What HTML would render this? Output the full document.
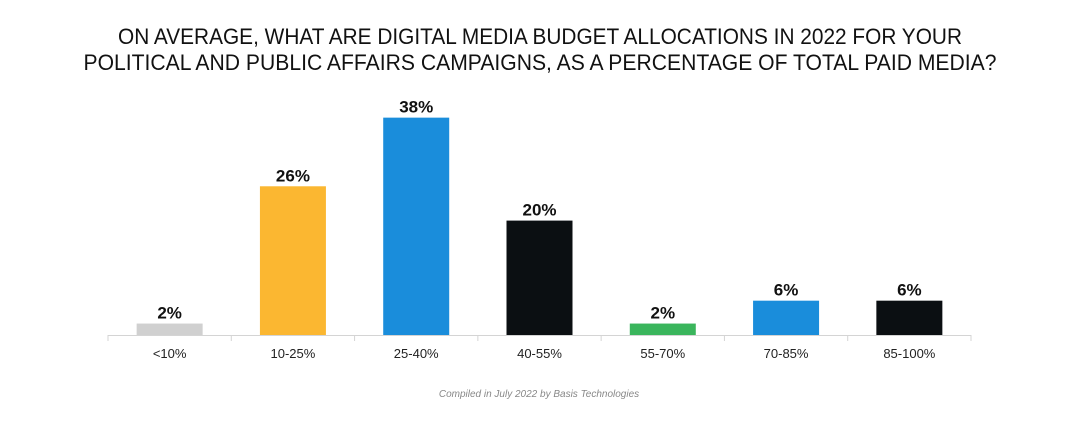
<!DOCTYPE html>
<html><head><meta charset="utf-8"><style>
html,body{margin:0;padding:0;background:#fff;}
svg{display:block;}
text{font-family:"Liberation Sans",sans-serif;}
</style></head><body>
<svg id="chart" width="1079" height="427" viewBox="0 0 1079 427" xmlns="http://www.w3.org/2000/svg">
<rect width="1079" height="427" fill="#fff"/>
<text x="540" y="44" text-anchor="middle" font-size="22" fill="#111" textLength="844" lengthAdjust="spacingAndGlyphs">ON AVERAGE, WHAT ARE DIGITAL MEDIA BUDGET ALLOCATIONS IN 2022 FOR YOUR</text>
<text x="540" y="70" text-anchor="middle" font-size="22" fill="#111" textLength="913" lengthAdjust="spacingAndGlyphs">POLITICAL AND PUBLIC AFFAIRS CAMPAIGNS, AS A PERCENTAGE OF TOTAL PAID MEDIA?</text>
<g id="plot"></g>
<text x="539" y="397" text-anchor="middle" font-size="10" font-style="italic" fill="#888">Compiled in July 2022 by Basis Technologies</text>
</svg>
<script>
const categories = ["<10%","10-25%","25-40%","40-55%","55-70%","70-85%","85-100%"];
const values = [2,26,38,20,2,6,6];
const valueLabels = ["2%","26%","38%","20%","2%","6%","6%"];
const colors = ["#d0d0d0","#fbb731","#1a8ddb","#0b0f12","#3ab55c","#1a8ddb","#0b0f12"];

const NS="http://www.w3.org/2000/svg";
const g=document.getElementById('plot');
const x0=108, x1=971, baseY=335, pxPer=5.72, barW=66;
const band=(x1-x0)/categories.length;
const xPos=i=>x0+band*i+band/2;
const yPos=v=>baseY-v*pxPer;
function mk(tag,attrs){const e=document.createElementNS(NS,tag);for(const k in attrs)e.setAttribute(k,attrs[k]);g.appendChild(e);return e;}
const axis=mk('line',{x1:x0,x2:x1,y1:baseY+0.5,y2:baseY+0.5,stroke:'#d4d4d4','stroke-width':1});


for(let i=0;i<=categories.length;i++){
  const t=mk('line',{x1:x0+band*i,x2:x0+band*i,y1:baseY,y2:baseY+6,stroke:'#d4d4d4','stroke-width':1});
  
  
}
categories.forEach((c,i)=>{
  const cx=xPos(i), top=yPos(values[i]);
  const r=mk('rect',{x:cx-barW/2,y:top,width:barW,height:baseY-top,fill:colors[i]});
  
  
  const vl=mk('text',{x:cx,y:top-5,'text-anchor':'middle','font-size':17,'font-weight':'bold',fill:'#111'});
  vl.textContent=valueLabels[i];
  
  
  const cl=mk('text',{x:cx,y:358,'text-anchor':'middle','font-size':13,fill:'#222'});
  cl.textContent=c;
  
  
});
</script>
</body></html>
